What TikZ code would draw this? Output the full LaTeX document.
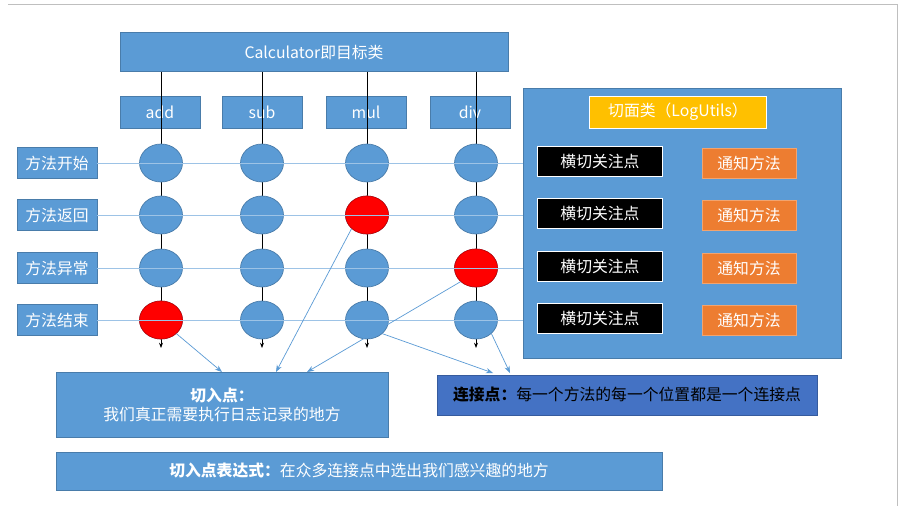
\documentclass[tikz,border=0pt]{standalone}
\usepackage{fontspec}
\setmainfont{Noto Sans CJK SC}
\usetikzlibrary{positioning,arrows.meta,shapes.geometric}
\definecolor{boxblue}{HTML}{5B9BD5}
\definecolor{darkblue}{HTML}{4472C4}
\definecolor{lineblue}{HTML}{9DC3E6}
\definecolor{arrblue}{HTML}{5B9BD5}
\definecolor{gold}{HTML}{FFC000}
\definecolor{advorange}{HTML}{ED7D31}
\tikzset{
    bluebox/.style={
    rectangle,draw=boxblue!80!black,fill=boxblue,text=white,inner sep=0pt,font=\small
    },
    joinpt/.style={
    ellipse,draw=boxblue!80!black,fill=boxblue,minimum width=0.86cm,minimum height=0.76cm,inner sep=0pt
    },
    redpt/.style={
    joinpt,draw=red!80!black,fill=red
    },
    cutbox/.style={
    rectangle,draw=white,fill=black,text=white,minimum width=2.5cm,minimum height=0.6cm,font=\small
    },
    advbox/.style={
    rectangle,draw=advorange!70!white,fill=advorange,text=white,minimum width=1.88cm,minimum height=0.6cm,font=\small
    },
    flow/.style={
    draw=arrblue,thin,-{Stealth[length=4pt]}
    },
}
\begin{document}
\begin{tikzpicture}[x=0.02cm,y=-0.02cm]
  \useasboundingbox[fill=white] (0,0) rectangle (905,510);
  \draw[gray!50] (8,4) -- (897,4) -- (897,506);
  % target class and methods
  \node[bluebox,minimum width=7.76cm,minimum height=0.78cm] (calc) at (314,52) {Calculator即目标类};
  \foreach \m/\x in {add/160,sub/262,mul/366,div/470}
    \node[bluebox,minimum width=1.6cm,minimum height=0.64cm] (\m) at (\x,112) {\m};
  % aspect panel
  \node[rectangle,fill=boxblue,draw=boxblue!80!black,minimum width=6.36cm,minimum height=5.4cm] (aspect) at (682,223) {};
  \node[rectangle,fill=gold,draw=white,minimum width=3.54cm,minimum height=0.64cm,text=white,font=\small] (logutils) at (678,112) {切面类（LogUtils）};
  % rows
  \foreach \r/\y/\t in {1/163/方法开始,2/215/方法返回,3/268/方法异常,4/320/方法结束}{
    \node[bluebox,minimum width=1.6cm,minimum height=0.62cm] (lab\r) at (57,\y) {\t};
    \draw[lineblue] (lab\r.east) -- (aspect.west |- lab\r.east);
    \node[cutbox] (cut\r) at (600,\y-2) {横切关注点};
    \node[advbox] (adv\r) at (749,\y) {通知方法};
  }
  % join points
  \foreach \c/\x in {1/161,2/262,3/367,4/476}{
    \draw[black,-{Stealth[length=3pt]}] (\x,72) -- (\x,348);
    \foreach \r/\y in {1/163,2/215,3/268,4/320}
      \node[joinpt] (p\c\r) at (\x,\y) {};
  }
  \node[redpt] at (p32) {};
  \node[redpt] at (p43) {};
  \node[redpt] at (p14) {};
  \foreach \c in {1,...,4} \foreach \r in {1,...,4} \draw[lineblue] (p\c\r.west) -- (p\c\r.east);
  % bottom boxes
  \node[bluebox,minimum width=6.64cm,minimum height=1.3cm,align=center] (pointcut) at (222,405) {\textbf{切入点：}\\我们真正需要执行日志记录的地方};
  \node[rectangle,fill=darkblue,draw=darkblue!80!black,minimum width=7.6cm,minimum height=0.8cm,font=\small] (joinpoint) at (627,395) {\textbf{连接点：}每一个方法的每一个位置都是一个连接点};
  \node[bluebox,minimum width=12.12cm,minimum height=0.76cm] (expr) at (359,471) {\textbf{切入点表达式：}在众多连接点中选出我们感兴趣的地方};
  % pointers
  \coordinate (pc1) at (222,372);
  \coordinate (pc2) at (276,372);
  \coordinate (pc3) at (307,372);
  \coordinate (jp1) at (493,373);
  \coordinate (jp2) at (510,373);
  \draw[flow] (p14.south east) -- (pc1);
  \draw[flow] (p32.south west) -- (pc2);
  \draw[flow] (p43.south west) -- (pc3);
  \draw[flow] (p34.south east) -- (jp1);
  \draw[flow] (p44.south east) -- (jp2);
\end{tikzpicture}
\end{document}
